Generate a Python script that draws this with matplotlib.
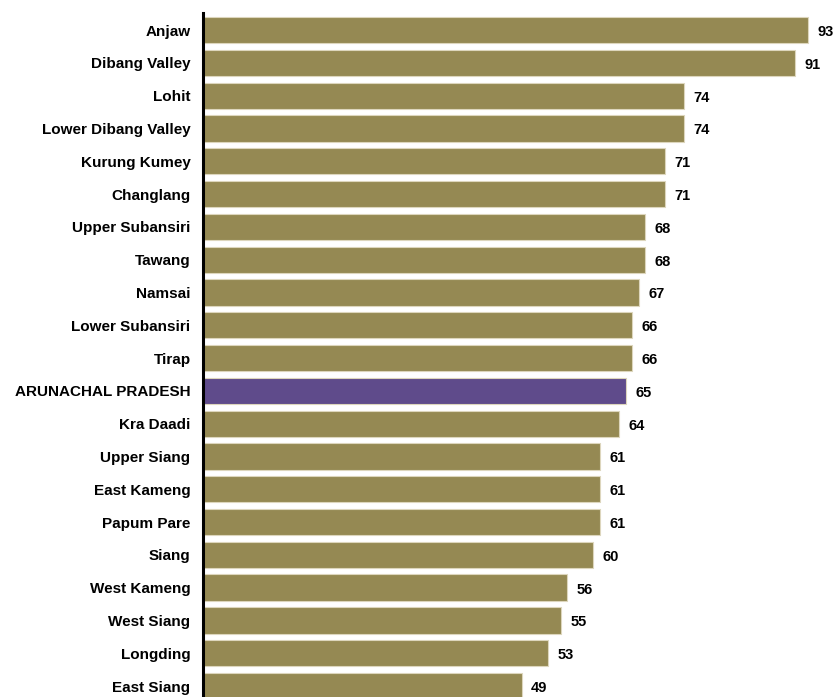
import matplotlib
matplotlib.use("Agg")
import matplotlib.pyplot as plt

# districts, top to bottom
districts = ["Anjaw", "Dibang Valley", "Lohit", "Lower Dibang Valley", "Kurung Kumey",
             "Changlang", "Upper Subansiri", "Tawang", "Namsai", "Lower Subansiri",
             "Tirap", "ARUNACHAL PRADESH", "Kra Daadi", "Upper Siang", "East Kameng",
             "Papum Pare", "Siang", "West Kameng", "West Siang", "Longding", "East Siang"]
values = [93, 91, 74, 74, 71, 71, 68, 68, 67, 66, 66, 65, 64, 61, 61, 61, 60, 56, 55, 53, 49]
highlight = "ARUNACHAL PRADESH"

olive = "#958953"
purple = "#5f4b8b"

plt.rcParams['font.family'] = ['Liberation Sans', 'DejaVu Sans']

fig = plt.figure(figsize=(8.36, 6.97), dpi=100)
ax = fig.add_axes([203 / 836, 0, 631 / 836, 684 / 697])

colors = [purple if d == highlight else olive for d in districts]
ypos = list(range(len(districts)))
ax.barh(ypos, values, height=0.8, color=colors, edgecolor="#ddd6bd", linewidth=0.8)

for y, v in zip(ypos, values):
    ax.text(v + 1.45, y + 0.06, str(v), va="center", ha="left",
            fontsize=10.5, fontweight="bold", color="black")

ax.set_yticks(ypos)
ax.set_yticklabels(districts, fontsize=11, fontweight="bold")
ax.tick_params(axis="y", length=0, pad=9)
ax.set_xticks([])
ax.set_xlim(0, 97)
ax.set_ylim(20.335, -0.52)

for s in ["top", "right", "bottom"]:
    ax.spines[s].set_visible(False)
ax.spines["left"].set_linewidth(2.2)
ax.spines["left"].set_color("black")

fig.savefig("out.png", dpi=100)
